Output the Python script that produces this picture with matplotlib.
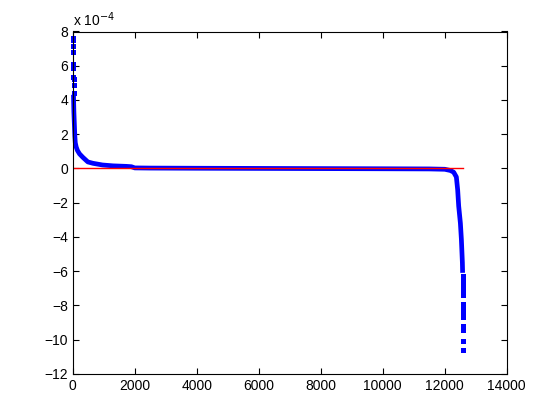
import numpy as np
import matplotlib
matplotlib.use("Agg")
import matplotlib.pyplot as plt

plt.rcParams['font.family'] = ['Liberation Sans', 'DejaVu Sans']

# sorted values (units of 1e-4), dense part
idx_dense = [22, 35, 50, 65, 80, 110, 150, 217, 323, 485, 647, 960, 1300,
             1726, 1890, 2000, 2500, 4000, 6000, 8000, 10000, 11500, 12000,
             12179, 12286, 12373, 12415, 12448, 12503, 12535, 12567, 12575]
val_dense = [4.3, 3.3, 2.6, 1.9, 1.5, 1.25, 1.05, 0.85, 0.65, 0.38, 0.3,
             0.2, 0.15, 0.12, 0.1, 0.03, 0.02, 0.01, 0.0, -0.01, -0.02,
             -0.03, -0.05, -0.12, -0.22, -0.5, -1.25, -2.2, -3.2, -4.15,
             -5.5, -6.1]

# isolated extreme values at both ends
idx_top = [10, 12, 14, 16, 18, 20, 22, 24, 26, 28]
val_top = [7.6, 7.5, 7.15, 6.8, 6.1, 5.85, 5.35, 5.2, 4.85, 4.4]
idx_bot = [12577, 12579, 12580, 12582, 12583, 12584, 12585, 12586, 12587,
           12588, 12590, 12592, 12595, 12598]
val_bot = [-6.3, -6.5, -6.7, -7.0, -7.2, -7.4, -7.9, -8.2, -8.5, -8.7,
           -9.2, -9.45, -10.1, -10.6]
n_total = 12600

fig = plt.figure(figsize=(5.6, 4.2), dpi=100)
ax = fig.add_axes([0.13, 0.11, 0.775, 0.815])

ax.plot(idx_dense, val_dense, '-', color='b', lw=3.4, solid_capstyle='butt',
        clip_on=False)
ax.plot(idx_top, val_top, 's', color='b', ms=3.6, mew=0, clip_on=False)
ax.plot(idx_bot, val_bot, 's', color='b', ms=3.6, mew=0)
ax.plot([0, n_total], [0, 0], 'r-', lw=1)

ax.set_xlim(0, 14000)
ax.set_ylim(-12, 8)
ax.set_xticks(np.arange(0, 14001, 2000))
ax.set_yticks(np.arange(-12, 9, 2))
ax.tick_params(direction='in', top=True, right=True, length=4, labelsize=10)
for s in ax.spines.values():
    s.set_linewidth(0.8)
ax.text(0, 1.008, r'x 10$^{-4}$', transform=ax.transAxes, fontsize=10,
        ha='left', va='bottom')

fig.savefig('out.png')
